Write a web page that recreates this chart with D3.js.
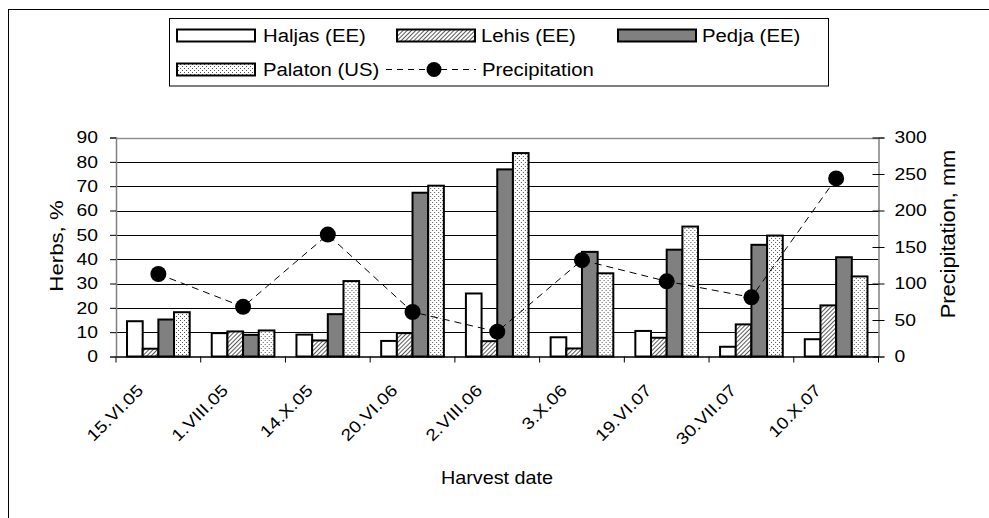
<!DOCTYPE html>
<html>
<head>
<meta charset="utf-8">
<script src="https://cdn.jsdelivr.net/npm/d3@7"></script>
<style>
  html, body { margin: 0; padding: 0; background: #fff; }
  svg { display: block; }
  text { font-family: "Liberation Sans", Arial, sans-serif; fill: #000; }
</style>
</head>
<body>
<svg id="chart" width="989" height="518"></svg>
<script>
// ---- data ----
const categories = ["15.VI.05", "1.VIII.05", "14.X.05", "20.VI.06", "2.VIII.06", "3.X.06", "19.VI.07", "30.VII.07", "10.X.07"];
const haljas  = [14.5, 9.6, 9.0, 6.4, 25.9, 7.9, 10.5, 4.0, 7.1];
const lehis   = [3.2, 10.3, 6.6, 9.6, 6.3, 3.3, 7.7, 13.2, 21.0];
const pedja   = [15.2, 8.9, 17.4, 67.3, 76.9, 43.0, 43.9, 45.9, 40.8];
const palaton = [18.2, 10.7, 31.0, 70.2, 83.6, 34.2, 53.4, 49.7, 32.9];
const precipitation = [113, 68, 167, 61, 34, 132, 103, 81, 244];
const seriesNames = ["Haljas (EE)", "Lehis (EE)", "Pedja (EE)", "Palaton (US)"];
const leftTicks = [0, 10, 20, 30, 40, 50, 60, 70, 80, 90];
const rightTicks = [0, 50, 100, 150, 200, 250, 300];

const SX = 1.17; // horizontal text stretch seen in the reference
const svg = d3.select("#chart");
const defs = svg.append("defs");

// patterns
const hatch = defs.append("pattern").attr("id", "hatch").attr("patternUnits", "userSpaceOnUse")
  .attr("width", 3).attr("height", 3).attr("patternTransform", "rotate(45)");
hatch.append("rect").attr("width", 3).attr("height", 3).attr("fill", "#fff");
hatch.append("line").attr("x1", 0).attr("y1", 0).attr("x2", 0).attr("y2", 3).attr("stroke", "#000").attr("stroke-width", 1.3);

const dots = defs.append("pattern").attr("id", "dots").attr("patternUnits", "userSpaceOnUse")
  .attr("width", 4).attr("height", 4);
dots.append("rect").attr("width", 4).attr("height", 4).attr("fill", "#fff");
dots.append("rect").attr("x", 0).attr("y", 0).attr("width", 1).attr("height", 1).attr("fill", "#555");
dots.append("rect").attr("x", 2).attr("y", 2).attr("width", 1).attr("height", 1).attr("fill", "#555");

const fills = ["#ffffff", "url(#hatch)", "#808080", "url(#dots)"];
const seriesData = [haljas, lehis, pedja, palaton];

function stretch(sel) {
  sel.each(function () {
    const t = d3.select(this);
    const x0 = +t.attr("x") || 0;
    t.attr("x", 0).attr("transform", `translate(${x0},0) scale(${SX},1)`);
  });
}

// outer frame
svg.append("rect").attr("x", 8.5).attr("y", 9.5).attr("width", 1000).attr("height", 600)
  .attr("fill", "none").attr("stroke", "#000").attr("stroke-width", 1);

// layout
const plot = { left: 116, right: 878.5, top: 137.5, bottom: 356.5 };

const x = d3.scaleBand().domain(categories).range([plot.left, plot.right]).padding(0);
const inset = x.bandwidth() * 0.13;
const xs = d3.scaleBand().domain(d3.range(4)).range([inset, x.bandwidth() - inset]).padding(0);
const y = d3.scaleLinear().domain([0, 90]).range([plot.bottom, plot.top]);
const y2 = d3.scaleLinear().domain([0, 300]).range([plot.bottom, plot.top]);

// gridlines
svg.append("g").selectAll("line").data(leftTicks.filter(t => t > 0 && t < 90)).join("line")
  .attr("x1", plot.left).attr("x2", plot.right)
  .attr("y1", d => Math.round(y(d)) + 0.5).attr("y2", d => Math.round(y(d)) + 0.5)
  .attr("stroke", "#000").attr("stroke-width", 1);
svg.append("line").attr("x1", plot.left).attr("x2", plot.right)
  .attr("y1", Math.round(y(90)) + 0.5).attr("y2", Math.round(y(90)) + 0.5)
  .attr("stroke", "#909090").attr("stroke-width", 1.5);

// bars
const groups = svg.append("g").selectAll("g").data(categories).join("g")
  .attr("transform", d => `translate(${x(d)},0)`);
groups.selectAll("rect").data((c, i) => seriesData.map((s, k) => ({ k, v: s[i] }))).join("rect")
  .attr("x", d => xs(d.k))
  .attr("width", xs.bandwidth())
  .attr("y", d => y(d.v))
  .attr("height", d => y(0) - y(d.v))
  .attr("fill", d => fills[d.k])
  .attr("stroke", "#000").attr("stroke-width", 2);

// axes
const leftAxis = d3.axisLeft(y).tickValues(leftTicks).tickSize(6).tickPadding(12).tickFormat(d3.format("d"));
const gl = svg.append("g").attr("transform", `translate(${plot.left},0)`).call(leftAxis);
gl.select(".domain").attr("stroke", "#808080").attr("stroke-width", 1.5);
gl.selectAll(".tick line").attr("stroke", "#000");
gl.selectAll("text").attr("font-size", 16.5).attr("font-family", "Liberation Sans, Arial, sans-serif").call(stretch);

const rightAxis = d3.axisRight(y2).tickValues(rightTicks).tickSize(6).tickPadding(10);
const gr = svg.append("g").attr("transform", `translate(${plot.right},0)`).call(rightAxis);
gr.select(".domain").attr("stroke", "#808080").attr("stroke-width", 1.5);
gr.selectAll(".tick line").attr("x1", -6).attr("stroke", "#000");
gr.selectAll("text").attr("font-size", 16.5).attr("font-family", "Liberation Sans, Arial, sans-serif").call(stretch);

const bottomAxis = d3.axisBottom(x).tickSize(0).tickFormat("");
const gb = svg.append("g").attr("transform", `translate(0,${plot.bottom})`).call(bottomAxis);
gb.select(".domain").attr("stroke", "#000").attr("stroke-width", 1.5);
svg.append("g").selectAll("line").data(categories.concat(["__end"])).join("line")
  .attr("x1", (d, i) => i < categories.length ? x(d) : plot.right)
  .attr("x2", (d, i) => i < categories.length ? x(d) : plot.right)
  .attr("y1", plot.bottom).attr("y2", plot.bottom + 6)
  .attr("stroke", "#000");

// rotated category labels
svg.append("g").selectAll("text").data(categories).join("text")
  .attr("transform", d => `translate(${x(d) + x.bandwidth() / 2 - 14},${plot.bottom + 35}) rotate(-45) scale(${SX},1)`)
  .attr("text-anchor", "end")
  .attr("font-size", 16.5)
  .text(d => d);

// precipitation line
const line = d3.line().x((d, i) => x(categories[i]) + x.bandwidth() / 2).y(d => y2(d));
svg.append("path").datum(precipitation).attr("d", line)
  .attr("fill", "none").attr("stroke", "#000").attr("stroke-width", 1).attr("stroke-dasharray", "7,5");
svg.append("g").selectAll("circle").data(precipitation).join("circle")
  .attr("cx", (d, i) => x(categories[i]) + x.bandwidth() / 2)
  .attr("cy", d => y2(d))
  .attr("r", 8).attr("fill", "#000");

// axis titles
svg.append("text").attr("transform", `translate(63,246) rotate(-90) scale(${SX},1)`)
  .attr("text-anchor", "middle").attr("font-size", 19).text("Herbs, %");
svg.append("text").attr("transform", `translate(955,234) rotate(-90) scale(1.12,1)`)
  .attr("text-anchor", "middle").attr("font-size", 19.5).text("Precipitation, mm");
svg.append("text").attr("transform", `translate(497,484) scale(1.1,1)`)
  .attr("text-anchor", "middle").attr("font-size", 18).text("Harvest date");

// legend
const LSX = 1.13;
const lg = svg.append("g");
lg.append("rect").attr("x", 169.5).attr("y", 18.5).attr("width", 659).attr("height", 67.5)
  .attr("fill", "#fff").attr("stroke", "#000").attr("stroke-width", 1);
const legendItems = [
  { name: seriesNames[0], fill: fills[0], sx: 176, tx: 263, cy: 35.5 },
  { name: seriesNames[1], fill: fills[1], sx: 396, tx: 481, cy: 35.5 },
  { name: seriesNames[2], fill: fills[2], sx: 617, tx: 702, cy: 35.5 },
  { name: seriesNames[3], fill: fills[3], sx: 176, tx: 263, cy: 69.5 }
];
legendItems.forEach(it => {
  lg.append("rect").attr("x", it.sx + 1).attr("y", it.cy - 6).attr("width", 78).attr("height", 12)
    .attr("fill", it.fill).attr("stroke", "#000").attr("stroke-width", 2);
  lg.append("text").attr("transform", `translate(${it.tx},${it.cy + 6.5}) scale(${LSX},1)`)
    .attr("font-size", 18).text(it.name);
});
lg.append("line").attr("x1", 386).attr("x2", 476).attr("y1", 69.5).attr("y2", 69.5)
  .attr("stroke", "#000").attr("stroke-width", 1).attr("stroke-dasharray", "6,5");
lg.append("circle").attr("cx", 434).attr("cy", 69.5).attr("r", 7.5).attr("fill", "#000");
lg.append("text").attr("transform", `translate(482,76) scale(${LSX},1)`).attr("font-size", 18).text("Precipitation");
</script>
</body>
</html>
